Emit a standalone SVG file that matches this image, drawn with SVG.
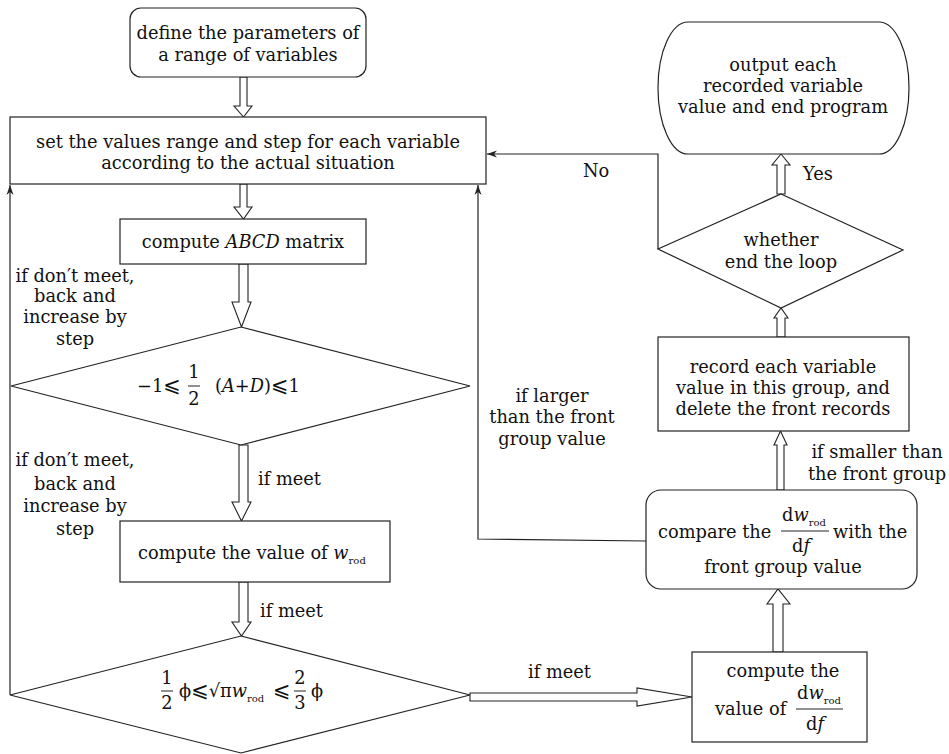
<svg xmlns="http://www.w3.org/2000/svg" width="949" height="754" viewBox="0 0 949 754">
<style>
text{font-family:"DejaVu Serif","DejaVu Sans",serif;font-size:17.8px;fill:#111}
.m{text-anchor:middle}
.s{font-size:10px}
.i{font-style:italic}
.le{font-size:21px}
.box{fill:#fff;stroke:#222;stroke-width:1.2}
.ha{fill:#fff;stroke:#222;stroke-width:1.1}
.ln{fill:none;stroke:#222;stroke-width:1.2}
.fl{stroke:#222;stroke-width:1}
</style>
<defs>
<marker id="ah" viewBox="0 0 10 10" refX="10" refY="5" markerWidth="10" markerHeight="10" markerUnits="userSpaceOnUse" orient="auto">
<path d="M0,1.5 L10,5 L0,8.5 L3,5 Z" fill="#222"/>
</marker>
</defs>
<rect width="949" height="754" fill="#fff"/>

<g id="connectors">
<polyline class="ln" points="10,695 10,185" marker-end="url(#ah)"/>
<polyline class="ln" points="646,541 478,539 478,185" marker-end="url(#ah)"/>
<polyline class="ln" points="658,249 658,154 487,154" marker-end="url(#ah)"/>
<polygon class="ha" points="240,77 247,77 247,106 252,106 243.5,117 234,106 240,106"/>
<polygon class="ha" points="240,184 247,184 247,207 252,207 243.5,219 234,207 240,207"/>
<polygon class="ha" points="239,264 248,264 248,302 251,302 241.5,327 232,302 239,302"/>
<polygon class="ha" points="239,445 248,445 248,502 251,502 241.5,521 232,502 239,502"/>
<polygon class="ha" points="239,582 248,582 248,622 251,622 241.5,636 232,622 239,622"/>
<polygon class="ha" points="470,693 637,693 637,688 692,697 637,706 637,701 470,701"/>
<polygon class="ha" points="773,652 783,652 783,604 790,604 778,589 767,604 773,604"/>
<polygon class="ha" points="777,490 784,490 784,445 787,445 780.5,431 774,445 777,445"/>
<polygon class="ha" points="777,337 785,337 785,318 788,318 781,308 774,318 777,318"/>
<polygon class="ha" points="777,194 785,194 785,165 790,165 781,154 772,165 777,165"/>
<text x="583" y="177">No</text>
<text x="803" y="180">Yes</text>
<text class="m" x="75" y="282">if don′t meet,</text>
<text class="m" x="75" y="302">back and</text>
<text class="m" x="75" y="323">increase by</text>
<text class="m" x="75" y="345">step</text>
<text class="m" x="75" y="466">if don′t meet,</text>
<text class="m" x="75" y="490">back and</text>
<text class="m" x="75" y="512">increase by</text>
<text class="m" x="75" y="535">step</text>
<text x="258" y="485">if meet</text>
<text x="260" y="617">if meet</text>
<text x="528" y="678">if meet</text>
<text class="m" x="552" y="402">if larger</text>
<text class="m" x="552" y="423">than the front</text>
<text class="m" x="552" y="445">group value</text>
<text class="m" x="877" y="458">if smaller than</text>
<text class="m" x="877" y="480">the front group</text>
</g>

<g id="define">
<rect class="box" x="130" y="8" width="236" height="69" rx="11"/>
<text class="m" x="248" y="39">define the parameters of</text>
<text class="m" x="248" y="61">a range of variables</text>
</g>

<g id="setvalues">
<rect class="box" x="10" y="117" width="476" height="67"/>
<text class="m" x="248" y="148">set the values range and step for each variable</text>
<text class="m" x="248" y="169">according to the actual situation</text>
</g>

<g id="abcd">
<rect class="box" x="120" y="219" width="246" height="45"/>
<text class="m" x="243" y="248">compute <tspan class="i">ABCD</tspan> matrix</text>
</g>

<g id="cond1">
<polygon class="box" points="241,327 470,386 241,445 11,386"/>
<text x="137" y="392">−1<tspan class="le">⩽</tspan></text>
<text class="m" x="194" y="378">1</text>
<line class="fl" x1="188" y1="386" x2="200" y2="386"/>
<text class="m" x="194" y="405">2</text>
<text x="215" y="392">(<tspan class="i">A</tspan>+<tspan class="i">D</tspan>)<tspan class="le">⩽</tspan>1</text>
</g>

<g id="wrod">
<rect class="box" x="120" y="521" width="270" height="61"/>
<text x="138" y="559">compute the value of <tspan class="i">w</tspan><tspan class="s" dy="5">rod</tspan></text>
</g>

<g id="cond2">
<polygon class="box" points="241,636 470,695 241,753 10,695"/>
<text class="m" x="167" y="684">1</text>
<line class="fl" x1="161" y1="691" x2="173" y2="691"/>
<text class="m" x="167" y="709">2</text>
<text x="179" y="697">ϕ<tspan class="le">⩽</tspan>√π<tspan class="i">w</tspan><tspan class="s" dy="5">rod</tspan></text>
<text x="273" y="697" class="le">⩽</text>
<text class="m" x="300" y="684">2</text>
<line class="fl" x1="294" y1="691" x2="306" y2="691"/>
<text class="m" x="300" y="709">3</text>
<text x="311" y="697">ϕ</text>
</g>

<g id="dwdf">
<rect class="box" x="692" y="652" width="175" height="90"/>
<text class="m" x="783" y="677">compute the</text>
<text x="715" y="715">value of</text>
<text x="797" y="699">d<tspan class="i">w</tspan><tspan class="s" dy="5">rod</tspan></text>
<line class="fl" x1="796" y1="709" x2="843" y2="709"/>
<text x="806" y="730">d<tspan class="i">f</tspan></text>
</g>

<g id="compare">
<rect class="box" x="646" y="490" width="271" height="99" rx="15"/>
<text x="658" y="538">compare the</text>
<text x="782" y="521">d<tspan class="i">w</tspan><tspan class="s" dy="5">rod</tspan></text>
<line class="fl" x1="781" y1="531" x2="829" y2="531"/>
<text x="792" y="552">d<tspan class="i">f</tspan></text>
<text x="833" y="538">with the</text>
<text class="m" x="783" y="573">front group value</text>
</g>

<g id="record">
<rect class="box" x="658" y="337" width="251" height="94"/>
<text class="m" x="783" y="373">record each variable</text>
<text class="m" x="783" y="394">value in this group, and</text>
<text class="m" x="783" y="415">delete the front records</text>
</g>

<g id="endloop">
<polygon class="box" points="781,194 903,250 781,308 658,249"/>
<text class="m" x="781" y="246">whether</text>
<text class="m" x="781" y="268">end the loop</text>
</g>

<g id="output">
<path class="box" d="M688,22 L879,22 A30,66 0 0 1 879,154 L688,154 A30,66 0 0 1 688,22 Z"/>
<text class="m" x="783" y="71">output each</text>
<text class="m" x="783" y="92">recorded variable</text>
<text class="m" x="783" y="113">value and end program</text>
</g>
</svg>
